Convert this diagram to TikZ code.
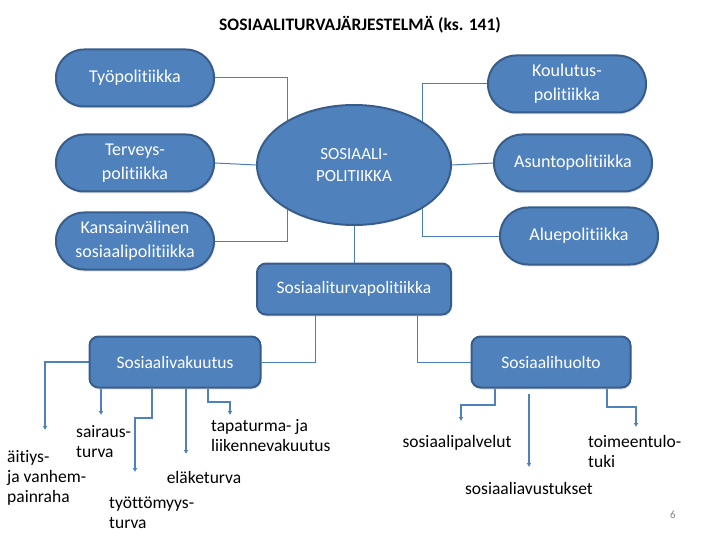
\documentclass[tikz,border=0pt]{standalone}
\usepackage{fontspec}
\setmainfont{Carlito}[Ligatures=CommonOff]
\usetikzlibrary{calc, positioning, arrows.meta, shapes.geometric, shadows, backgrounds}

\definecolor{boxblue}{HTML}{4F81BD}
\definecolor{boxline}{HTML}{385D8A}
\definecolor{linkblue}{HTML}{4A7EBB}

\begin{document}
\begin{tikzpicture}[x=1pt, y=-1pt,
  pill/.style={draw=boxline, line width=2pt, fill=boxblue, text=white,
    rounded corners=28pt, minimum width=158pt, minimum height=57pt,
    align=center, font=\fontsize{18}{24}\selectfont,
    drop shadow={opacity=0.2, shadow xshift=1pt, shadow yshift=-2pt}},
  card/.style={draw=boxline, line width=2pt, fill=boxblue, text=white,
    rounded corners=9pt, minimum height=51pt,
    font=\fontsize{17.5}{21}\selectfont,
    drop shadow={opacity=0.2, shadow xshift=1pt, shadow yshift=-2pt}},
  link/.style={draw=linkblue, line width=1pt},
  arr/.style={draw=boxblue, line width=2pt, -{Latex[length=4pt,width=5pt]}},
  lbl/.style={inner sep=0pt, align=left, font=\fontsize{17.5}{20}\selectfont}]
\useasboundingbox (0,0) rectangle (720,540);

% Title
\node[font=\bfseries\fontsize{17.5}{20}\selectfont] (title) at (360,25) {SOSIAALITURVAJÄRJESTELMÄ (ks. 141)};

% Centre and the policy boxes round it
\node[ellipse, draw=boxline, line width=2pt, fill=boxblue, text=white,
  minimum width=194pt, minimum height=120pt, inner sep=0pt, align=center,
  font=\fontsize{17}{22}\selectfont] (sp) at (354,165) {SOSIAALI-\\POLITIIKKA};
\node[pill] (tyo) at (135,78) {Työpolitiikka};
\node[pill] (ter) at (135,163) {Terveys-\\politiikka};
\node[pill] (kan) at (135,241) {Kansainvälinen\\sosiaalipolitiikka};
\node[pill] (kou) at (567,84) {Koulutus-\\politiikka};
\node[pill] (asu) at (573,163) {Asuntopolitiikka};
\node[pill] (alu) at (579,236) {Aluepolitiikka};

% Social security branch
\node[card, minimum width=194pt] (stp) at (354,289) {Sosiaaliturvapolitiikka};
\node[card, minimum width=171pt] (vak) at (175,362) {Sosiaalivakuutus};
\node[card, minimum width=159pt] (huo) at (551,362) {Sosiaalihuolto};

% Leaf labels
\node[lbl, anchor=north west] (ait) at (7,450) {äitiys-\\ja vanhem-\\painraha};
\node[lbl, anchor=north west] (sai) at (76,425) {sairaus-\\turva};
\node[lbl, anchor=north west] (tyt) at (109,497) {työttömyys-\\turva};
\node[lbl] (ela) at (204,477) {eläketurva};
\node[lbl, anchor=north west] (tap) at (211,419) {tapaturma- ja\\liikennevakuutus};
\node[lbl] (pal) at (457,443) {sosiaalipalvelut};
\node[lbl] (avu) at (529,488) {sosiaaliavustukset};
\node[lbl, anchor=north west] (toi) at (588,435) {toimeentulo-\\tuki};
\node[text=gray, font=\fontsize{11}{13}\selectfont] (page) at (673,515) {6};

% Free ends and bends of the connectors
\coordinate (xl) at (287,0);
\coordinate (xr) at (422,0);
\coordinate (xv) at (315,0);
\coordinate (xh) at (417,0);
\coordinate (aitE) at (45,430);
\coordinate (saiE) at (101,415);
\coordinate (tytS) at (152,0);
\coordinate (tytM) at (135,418);
\coordinate (tytE) at (135,472);
\coordinate (elaE) at (186,454);
\coordinate (tapS) at (208,0);
\coordinate (tapM) at (230,402);
\coordinate (tapE) at (230,415);
\coordinate (palS) at (495,0);
\coordinate (palM) at (461,405);
\coordinate (palE) at (461,421);
\coordinate (avuE) at (529,467);
\coordinate (toiS) at (607,0);
\coordinate (toiM) at (636,407);
\coordinate (toiE) at (636,427);

\begin{scope}[on background layer]
% Policy connectors
\draw[link] (tyo.east) -| (sp.center -| xl);
\draw[link] (ter.east) -- (sp.west);
\draw[link] (kan.east) -| (sp.center -| xl);
\draw[link] (kou.west) -| (sp.center -| xr);
\draw[link] (asu.west) -- (sp.east);
\draw[link] (alu.west) -| (sp.center -| xr);
\draw[link] (sp.south) -- (stp.north);
\draw[link] (stp.south -| xv) |- (vak.east);
\draw[link] (stp.south -| xh) |- (huo.west);

% Benefit arrows
\draw[arr] (vak.west) -| (aitE);
\draw[arr] (vak.south -| saiE) -- (saiE);
\draw[arr] (vak.south -| tytS) |- (tytM) -- (tytE);
\draw[arr] (vak.south -| elaE) -- (elaE);
\draw[arr] (vak.south -| tapS) |- (tapM) -- (tapE);
\draw[arr] (huo.south -| palS) |- (palM) -- (palE);
\draw[arr, shorten <=5pt] (huo.south -| avuE) -- (avuE);
\draw[arr] (huo.south -| toiS) |- (toiM) -- (toiE);
\end{scope}

\end{tikzpicture}
\end{document}
